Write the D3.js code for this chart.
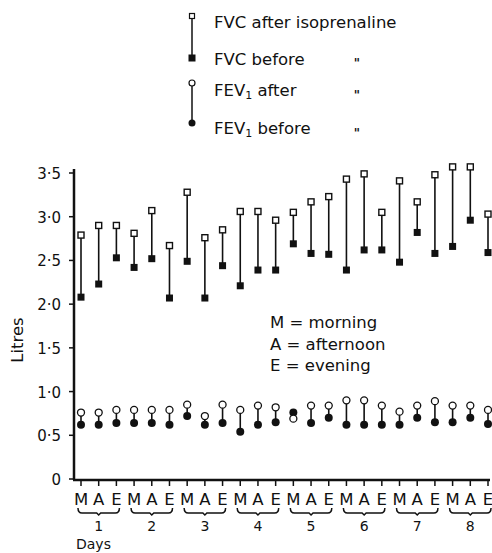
<!DOCTYPE html>
<head>
  <meta charset="utf-8" />
  <script src="https://d3js.org/d3.v7.min.js"></script>
  <style>
    body { margin: 0; background: #fff; }
    text { font-family: "DejaVu Sans", sans-serif; fill: #111; }
  </style>
</head>
<body>
  <div id="chart"></div>
  <script>
    // donnees
    var days = ["1", "2", "3", "4", "5", "6", "7", "8"];
    var periods = ["M", "A", "E"];
    var yTicks = [0, 0.5, 1, 1.5, 2, 2.5, 3, 3.5];
    var yTickLabels = ["0", "0·5", "1·0", "1·5", "2·0", "2·5", "3·0", "3·5"];

    var fvcAfter = [2.79, 2.90, 2.90, 2.81, 3.07, 2.67, 3.28, 2.76, 2.85, 3.06, 3.06, 2.96,
                    3.05, 3.17, 3.23, 3.43, 3.49, 3.05, 3.41, 3.17, 3.48, 3.57, 3.57, 3.03];
    var fvcBefore = [2.08, 2.23, 2.53, 2.42, 2.52, 2.07, 2.49, 2.07, 2.44, 2.21, 2.39, 2.39,
                     2.69, 2.58, 2.57, 2.39, 2.62, 2.62, 2.48, 2.82, 2.58, 2.66, 2.96, 2.59];
    var fev1After = [0.76, 0.76, 0.79, 0.79, 0.79, 0.79, 0.85, 0.72, 0.85, 0.79, 0.84, 0.82,
                     0.69, 0.84, 0.84, 0.90, 0.90, 0.84, 0.77, 0.84, 0.89, 0.84, 0.84, 0.79];
    var fev1Before = [0.62, 0.62, 0.64, 0.64, 0.64, 0.62, 0.72, 0.62, 0.64, 0.54, 0.62, 0.65,
                      0.76, 0.64, 0.70, 0.62, 0.62, 0.62, 0.62, 0.70, 0.65, 0.65, 0.70, 0.63];

    var legendMAE = ["M = morning", "A = afternoon", "E = evening"];

    const width = 492, height = 553;
    const fs = "16.5px";

    var svg = d3.select("#chart").append("svg")
      .attr("width", width)
      .attr("height", height);

    // une case par (jour, moment)
    var slots = [];
    days.forEach(function (d) {
      periods.forEach(function (p) { slots.push(d + p); });
    });

    var x = d3.scalePoint().domain(slots).range([81, 488]);
    var y = d3.scaleLinear().domain([0, 3.5]).range([479, 173]);

    var rows = slots.map(function (s, i) {
      return { slot: s, period: s.slice(-1), fa: fvcAfter[i], fb: fvcBefore[i], ea: fev1After[i], eb: fev1Before[i] };
    });

    // axes
    svg.append("line").attr("x1", 74).attr("x2", 74).attr("y1", 169).attr("y2", 480)
      .attr("stroke", "#111").attr("stroke-width", 2.5);
    svg.append("line").attr("x1", 73).attr("x2", 490).attr("y1", 480).attr("y2", 480)
      .attr("stroke", "#111").attr("stroke-width", 2.5);

    svg.selectAll(".ytick").data(yTicks).join("line")
      .attr("x1", 69).attr("x2", 74)
      .attr("y1", function (d) { return y(d); })
      .attr("y2", function (d) { return y(d); })
      .attr("stroke", "#111").attr("stroke-width", 1.5);

    svg.selectAll(".ylab").data(yTicks).join("text")
      .attr("x", 61)
      .attr("y", function (d) { return y(d) + 6; })
      .attr("text-anchor", "end")
      .style("font-size", "15px")
      .text(function (d, i) { return yTickLabels[i]; });

    svg.append("text")
      .attr("transform", "translate(23,340) rotate(-90)")
      .attr("text-anchor", "middle")
      .style("font-size", fs)
      .text("Litres");

    // axe des x : ticks, lettres, accolades, jours
    svg.selectAll(".xtick").data(slots).join("line")
      .attr("x1", function (d) { return x(d); })
      .attr("x2", function (d) { return x(d); })
      .attr("y1", 480).attr("y2", 486)
      .attr("stroke", "#111").attr("stroke-width", 1.5);

    svg.selectAll(".xlab").data(rows).join("text")
      .attr("x", function (d) { return x(d.slot); })
      .attr("y", 505)
      .attr("text-anchor", "middle")
      .style("font-size", fs)
      .text(function (d) { return d.period; });

    svg.selectAll(".brace").data(days).join("path")
      .attr("d", function (d) {
        var x0 = x(d + "M") - 3, x1 = x(d + "E") + 3, xm = x(d + "A");
        return "M" + x0 + ",508 Q" + x0 + ",513 " + (x0 + 4) + ",513 L" + (xm - 2) + ",513 L" + xm + ",515 L" + (xm + 2) + ",513 L" + (x1 - 4) + ",513 Q" + x1 + ",513 " + x1 + ",508";
      })
      .attr("fill", "none").attr("stroke", "#111").attr("stroke-width", 1.5);

    svg.selectAll(".day").data(days).join("text")
      .attr("x", function (d) { return x(d + "A"); })
      .attr("y", 531)
      .attr("text-anchor", "middle")
      .style("font-size", "14px")
      .text(function (d) { return d; });

    svg.append("text").attr("x", 76).attr("y", 549)
      .style("font-size", "14px").text("Days");

    // lignes avant -> apres
    var plot = svg.append("g");
    plot.selectAll(".fvcline").data(rows).join("line")
      .attr("x1", function (d) { return x(d.slot); })
      .attr("x2", function (d) { return x(d.slot); })
      .attr("y1", function (d) { return y(d.fa); })
      .attr("y2", function (d) { return y(d.fb); })
      .attr("stroke", "#111").attr("stroke-width", 1.6);
    plot.selectAll(".fevline").data(rows).join("line")
      .attr("x1", function (d) { return x(d.slot); })
      .attr("x2", function (d) { return x(d.slot); })
      .attr("y1", function (d) { return y(d.ea); })
      .attr("y2", function (d) { return y(d.eb); })
      .attr("stroke", "#111").attr("stroke-width", 1.6);

    var s = 7;
    plot.selectAll(".fb").data(rows).join("rect")
      .attr("x", function (d) { return x(d.slot) - s / 2; })
      .attr("y", function (d) { return y(d.fb) - s / 2; })
      .attr("width", s).attr("height", s).attr("fill", "#111");
    plot.selectAll(".fa").data(rows).join("rect")
      .attr("x", function (d) { return x(d.slot) - (s - 1) / 2; })
      .attr("y", function (d) { return y(d.fa) - (s - 1) / 2; })
      .attr("width", s - 1).attr("height", s - 1)
      .attr("fill", "#fff").attr("stroke", "#111").attr("stroke-width", 1.4);
    plot.selectAll(".eb").data(rows).join("circle")
      .attr("cx", function (d) { return x(d.slot); })
      .attr("cy", function (d) { return y(d.eb); })
      .attr("r", 4).attr("fill", "#111");
    plot.selectAll(".ea").data(rows).join("circle")
      .attr("cx", function (d) { return x(d.slot); })
      .attr("cy", function (d) { return y(d.ea); })
      .attr("r", 3.5).attr("fill", "#fff").attr("stroke", "#111").attr("stroke-width", 1.3);

    // legende du haut
    var lg = svg.append("g");
    lg.append("line").attr("x1", 192).attr("x2", 192).attr("y1", 16).attr("y2", 58)
      .attr("stroke", "#111").attr("stroke-width", 1.5);
    lg.append("rect").attr("x", 189.5).attr("y", 13.5).attr("width", 5).attr("height", 5)
      .attr("fill", "#fff").attr("stroke", "#111").attr("stroke-width", 1.2);
    lg.append("rect").attr("x", 188.5).attr("y", 54.5).attr("width", 7).attr("height", 7).attr("fill", "#111");
    lg.append("line").attr("x1", 192).attr("x2", 192).attr("y1", 84).attr("y2", 123)
      .attr("stroke", "#111").attr("stroke-width", 1.5);
    lg.append("circle").attr("cx", 192).attr("cy", 83).attr("r", 3)
      .attr("fill", "#fff").attr("stroke", "#111").attr("stroke-width", 1.2);
    lg.append("circle").attr("cx", 192).attr("cy", 123).attr("r", 3.5).attr("fill", "#111");

    lg.append("text").attr("x", 214).attr("y", 28).style("font-size", fs).text("FVC after isoprenaline");
    lg.append("text").attr("x", 214).attr("y", 65).style("font-size", fs).text("FVC before");

    var t1 = lg.append("text").attr("x", 214).attr("y", 96).style("font-size", fs);
    t1.append("tspan").text("FEV");
    t1.append("tspan").attr("dy", 3).style("font-size", "11px").text("1");
    t1.append("tspan").attr("dy", -3).text(" after");
    var t2 = lg.append("text").attr("x", 214).attr("y", 134).style("font-size", fs);
    t2.append("tspan").text("FEV");
    t2.append("tspan").attr("dy", 3).style("font-size", "11px").text("1");
    t2.append("tspan").attr("dy", -3).text(" before");

    lg.selectAll(".ditto").data([67, 99, 137]).join("text")
      .attr("x", 357).attr("y", function (d) { return d; })
      .attr("text-anchor", "middle")
      .style("font-size", "12px").style("font-weight", "bold")
      .text("\"");

    // legende M/A/E
    svg.selectAll(".mae").data(legendMAE).join("text")
      .attr("x", 270)
      .attr("y", function (d, i) { return 328 + i * 21.5; })
      .style("font-size", fs)
      .text(function (d) { return d; });
  </script>
</body>
